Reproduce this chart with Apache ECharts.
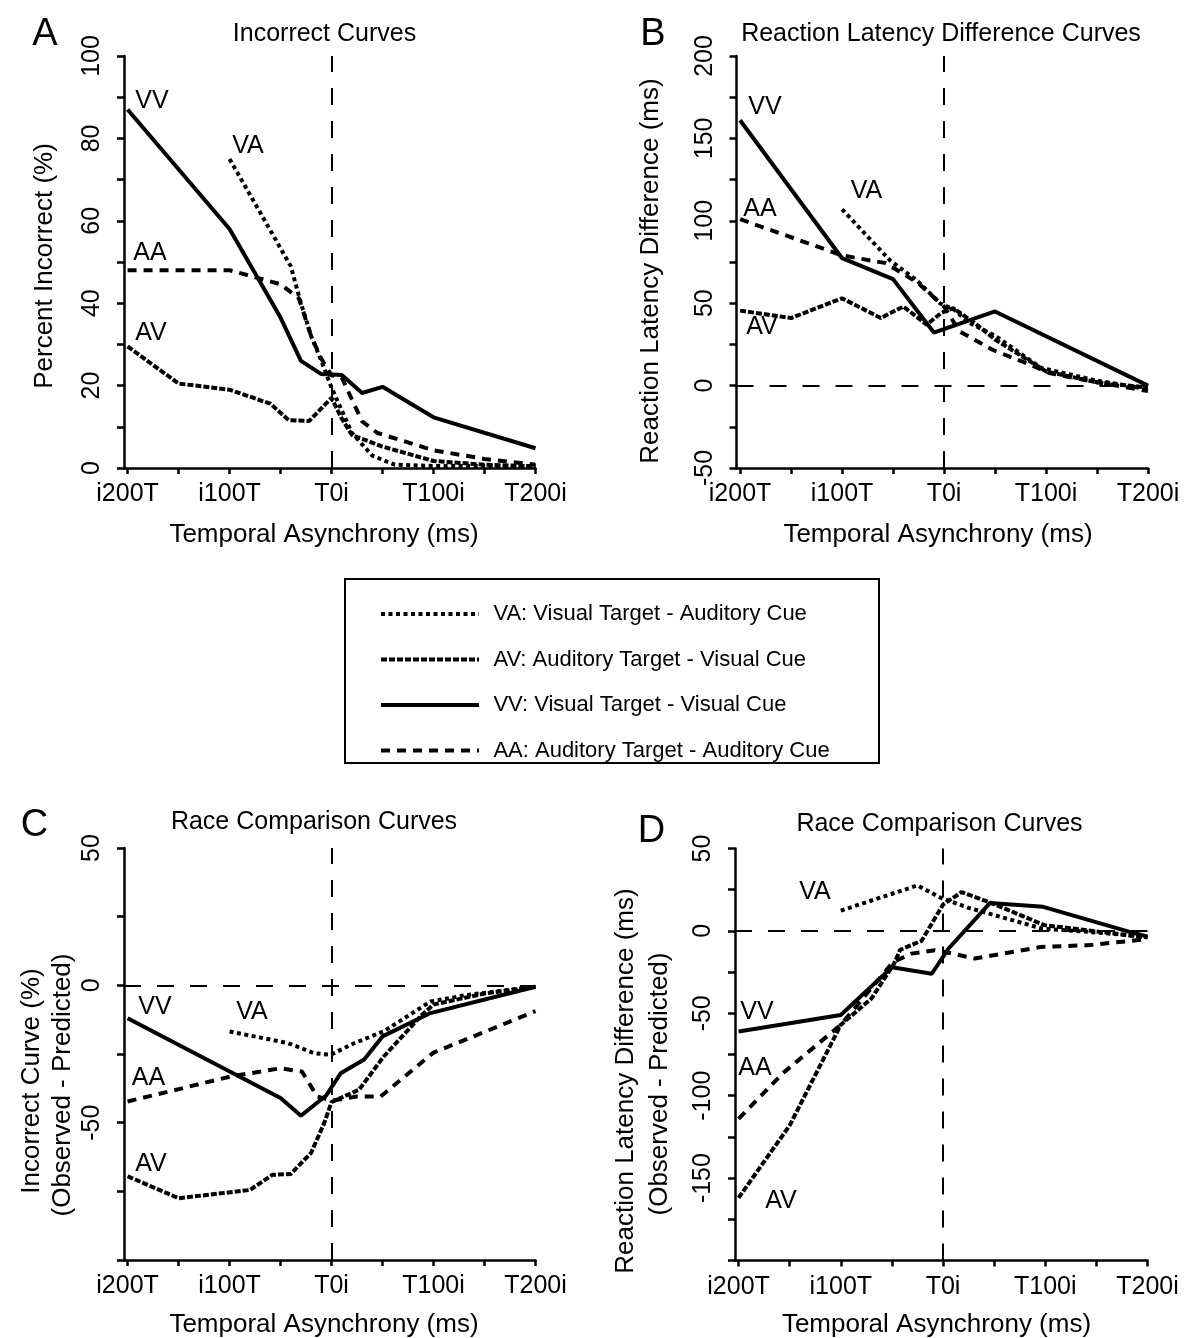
<!DOCTYPE html>
<html><head><meta charset="utf-8">
<script src="https://cdn.jsdelivr.net/npm/echarts@6/dist/echarts.min.js"></script>
<style>html,body{margin:0;padding:0;background:#fff}#c{width:1184px;height:1338px}</style>
</head><body><div id="c"></div>
<script>
// ---- tick labels / categories ----
const xTickValues = [-200, -150, -100, -50, 0, 50, 100, 150, 200];
const xLabelValues = [-200, -100, 0, 100, 200];
const xLabelText = ['i200T', 'i100T', 'T0i', 'T100i', 'T200i'];
const seriesNames = ['VA: Visual Target - Auditory Cue', 'AV: Auditory Target - Visual Cue',
                     'VV: Visual Target - Visual Cue', 'AA: Auditory Target - Auditory Cue'];
const seriesCodes = ['VA', 'AV', 'VV', 'AA'];

// ---- Panel A: Incorrect Curves (%) ----
const A_VA = [[-100,75],[-40,49],[-30,40],[-20,32],[-10,26],[0,19.5],[10,14],[20,8.5],[40,3],[62,0.8],[100,0.5],[150,0.5],[200,0.5]];
const A_AV = [[-200,29.5],[-150,20.5],[-100,19],[-60,15.6],[-42,11.6],[-22,11.4],[0,17],[10,12],[20,8],[50,5.2],[100,1.7],[150,0.8],[200,0.4]];
const A_VV = [[-200,87],[-100,58],[-50,36.5],[-30,26],[-10,22.8],[10,22.6],[30,18.2],[50,19.7],[100,12.3],[200,4.8]];
const A_AA = [[-200,48],[-100,48],[-50,44.6],[-32,41.2],[-20,32],[-10,26.5],[0,22.5],[10,22],[23,15],[30,11.3],[45,8.5],[100,4.3],[150,2.2],[200,0.8]];

// ---- Panel B: Reaction latency difference (ms) ----
const B_VA = [[-100,107],[-53,76],[-27,64],[-4,50],[10,46],[25,38],[50,30.3],[95,10.8],[150,3],[200,-2.2]];
const B_AV = [[-200,45.5],[-150,41],[-100,53],[-62,41],[-40,48],[-17,37],[-3,44],[9,47],[30,38],[50,28],[100,8.6],[150,2],[200,-1.2]];
const B_VV = [[-200,161],[-100,77.3],[-50,64.6],[-10,32.2],[50,45],[200,0]];
const B_AA = [[-200,101],[-100,79],[-57,74.3],[-25,62],[0,48],[15,33],[48,21.6],[81,13.5],[104,7.5],[150,2],[200,-3.3]];

// ---- Panel C: Race comparison, incorrect (%) ----
const C_VA = [[-100,-16.8],[-43,-21],[-17,-24.7],[-1,-25.3],[22,-21.1],[51,-16.8],[97,-5.9],[133,-3.5],[200,-0.5]];
const C_AV = [[-200,-69.5],[-150,-77.5],[-80,-74.5],[-58,-69],[-40,-68.7],[-20,-61],[-7,-50],[0,-42.5],[27,-38],[51,-26],[88,-11],[100,-7],[150,-3],[200,-0.5]];
const C_VV = [[-200,-12],[-50,-41],[-30,-47.5],[-5,-40],[9,-32],[32,-27],[50,-18.6],[97,-10.1],[200,-0.5]];
const C_AA = [[-200,-42.3],[-99,-33.2],[-50,-30.2],[-29,-31.4],[-14,-40.5],[0,-42],[25,-40.5],[48,-40.5],[100,-24.5],[200,-9.4]];

// ---- Panel D: Race comparison, latency (ms) ----
const D_VA = [[-100,12.3],[-25,27.6],[-2,20],[25,14],[45,10.5],[97,1.4],[142,-0.6],[200,-3.5]];
const D_AV = [[-200,-162],[-150,-118],[-100,-57],[-70,-41],[-48,-20],[-42,-11.5],[-21,-6],[0,16],[18,23.5],[47,17],[99,3.5],[200,-4]];
const D_VV = [[-200,-61],[-100,-51],[-50,-22],[-11,-26],[5,-11],[46,17],[98,14.6],[185,-1],[200,-3.5]];
const D_AA = [[-200,-114],[-156,-86],[-100,-57],[-49,-19],[-31,-13.8],[-8,-11.7],[2,-12.8],[31,-16.8],[96,-9.7],[142,-8.7],[200,-5]];

// ---- axis settings ----
const yMins = [0, -50, -100, -200];
const yMaxs = [100, 200, 50, 50];
const yIntervals = [20, 50, 50, 50];
const yShowMin = [true, true, false, false];

const panels = [
  {VA: A_VA, AV: A_AV, VV: A_VV, AA: A_AA, zeroLine: false},
  {VA: B_VA, AV: B_AV, VV: B_VV, AA: B_AA, zeroLine: true},
  {VA: C_VA, AV: C_AV, VV: C_VV, AA: C_AA, zeroLine: true},
  {VA: D_VA, AV: D_AV, VV: D_VV, AA: D_AA, zeroLine: true}
];

const FONT = '"Liberation Sans", Arial, Helvetica, sans-serif';
const dashTypes = {VA: [4, 3.5], AV: [6, 2], VV: 'solid', AA: [9, 7]};

const grids = [
  {left: 124, top: 56, width: 411.5, height: 412},
  {left: 736.5, top: 56, width: 411.5, height: 412},
  {left: 124, top: 848, width: 411.5, height: 412},
  {left: 735, top: 848.5, width: 412.5, height: 412}
];

const blackLine = {color: '#000', width: 2.5};
const xAxes = grids.map((g, i) => ({
  gridIndex: i, type: 'value', min: -203.5, max: 200,
  axisLine: {show: true, onZero: false, lineStyle: blackLine},
  axisTick: {show: true, customValues: xTickValues, length: 6, lineStyle: blackLine},
  axisLabel: {customValues: xLabelValues, margin: 14, color: '#000', fontSize: 25, fontFamily: FONT,
    formatter: v => { const k = xLabelValues.indexOf(v); return k >= 0 ? xLabelText[k] : ''; }},
  splitLine: {show: false}
}));
const yAxes = grids.map((g, i) => ({
  gridIndex: i, type: 'value', min: yMins[i], max: yMaxs[i], interval: yIntervals[i],
  axisLine: {show: true, onZero: false, lineStyle: blackLine},
  axisTick: {show: true, length: 7, lineStyle: blackLine},
  minorTick: {show: true, splitNumber: 2, length: 7, lineStyle: blackLine},
  axisLabel: {rotate: 90, margin: 19, color: '#000', fontSize: 25, fontFamily: FONT,
    showMinLabel: yShowMin[i], showMaxLabel: true},
  splitLine: {show: false}, minorSplitLine: {show: false}
}));

const series = [];
panels.forEach((p, i) => {
  seriesCodes.forEach((code, j) => {
    const s = {
      type: 'line', name: seriesNames[j], xAxisIndex: i, yAxisIndex: i,
      data: p[code], symbol: 'none', showSymbol: false, smooth: false,
      lineStyle: {color: '#000', width: 4, type: dashTypes[code], cap: 'butt'},
      itemStyle: {color: '#000'},
      emphasis: {disabled: true}, silent: true, z: 3
    };
    if (j === 0) {
      const ml = [{xAxis: 0}];
      if (p.zeroLine) ml.push({yAxis: 0});
      s.markLine = {symbol: ['none', 'none'], silent: true, animation: false,
        label: {show: false}, lineStyle: {color: '#000', width: 2, type: [17, 16]},
        emphasis: {disabled: true}, data: ml};
    }
    series.push(s);
  });
});

function txt(text, x, y, size, rot) {
  return {type: 'text', x: x, y: y, rotation: rot || 0, silent: true, z: 10,
    style: {text: text, font: 'normal ' + size + 'px ' + FONT, fill: '#000',
      align: 'center', verticalAlign: 'middle', textAlign: 'center', textVerticalAlign: 'middle'}};
}
const R = Math.PI / 2;
const graphics = [
  // panel letters
  txt('A', 45, 35, 38), txt('B', 653, 35, 38), txt('C', 34.5, 826, 38), txt('D', 651.5, 832, 38),
  // titles
  txt('Incorrect Curves', 324.5, 34, 25),
  txt('Reaction Latency Difference Curves', 941, 34, 25),
  txt('Race Comparison Curves', 314, 822, 25),
  txt('Race Comparison Curves', 939.5, 824, 25),
  // x axis names
  txt('Temporal Asynchrony (ms)', 324, 535, 26),
  txt('Temporal Asynchrony (ms)', 938, 535, 26),
  txt('Temporal Asynchrony (ms)', 324, 1325, 26),
  txt('Temporal Asynchrony (ms)', 936.5, 1325, 26),
  // y axis names
  txt('Percent Incorrect (%)', 45, 266, 26, R),
  txt('Reaction Latency Difference (ms)', 650.5, 271, 26, R),
  txt('Incorrect Curve (%)', 32, 1081, 26, R),
  txt('(Observed - Predicted)', 63, 1085, 26, R),
  txt('Reaction Latency Difference (ms)', 626, 1081, 26, R),
  txt('(Observed - Predicted)', 660, 1084, 26, R),
  // curve labels
  txt('VV', 152, 101, 25), txt('VA', 248, 146, 25), txt('AA', 150, 253, 25), txt('AV', 151, 333, 25),
  txt('VV', 765, 107, 25), txt('VA', 866.5, 191, 25), txt('AA', 760, 209, 25), txt('AV', 762, 327, 25),
  txt('VV', 155, 1007, 25), txt('VA', 252, 1012, 25), txt('AA', 148.5, 1078, 25), txt('AV', 151, 1164, 25),
  txt('VA', 815, 892, 25), txt('VV', 757, 1012, 25), txt('AA', 755, 1068, 25), txt('AV', 781, 1201.5, 25),
  // legend frame
  {type: 'rect', silent: true, z: 1, shape: {x: 345, y: 579, width: 534, height: 184},
    style: {fill: 'none', stroke: '#000', lineWidth: 2}}
];

const chart = echarts.init(document.getElementById('c'), null, {renderer: 'canvas'});
chart.setOption({
  animation: false,
  backgroundColor: '#fff',
  textStyle: {fontFamily: FONT, color: '#000'},
  grid: grids,
  xAxis: xAxes,
  yAxis: yAxes,
  legend: {
    orient: 'vertical', left: 379, top: 603, padding: 0,
    itemWidth: 98, itemHeight: 14, itemGap: 23.5, selectedMode: false,
    data: seriesNames,
    itemStyle: {opacity: 0},
    lineStyle: {width: 4},
    textStyle: {fontSize: 22, color: '#000', fontFamily: FONT, lineHeight: 22, padding: [0, 0, 0, 9.4]}
  },
  series: series,
  graphic: graphics
});
</script></body></html>
